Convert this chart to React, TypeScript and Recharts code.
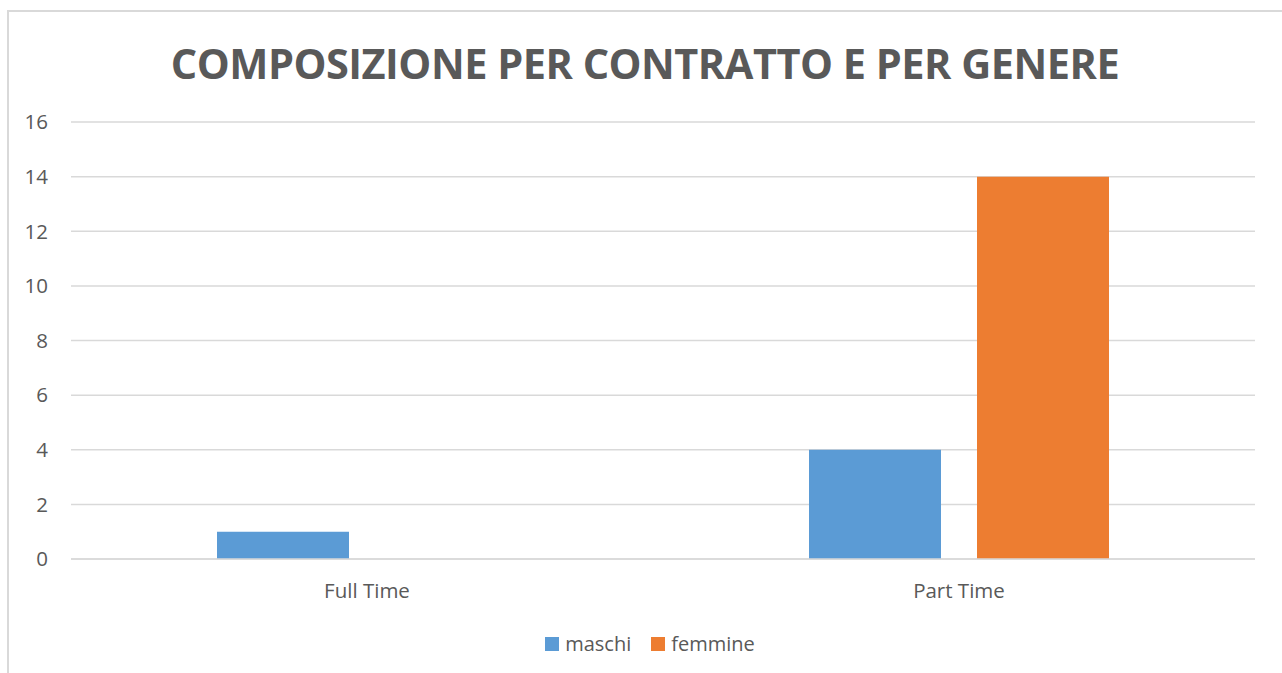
import { BarChart, Bar, XAxis, YAxis, CartesianGrid, Legend } from "recharts";

const categories = ["Full Time", "Part Time"];
const maschi = [1, 4];
const femmine = [0, 14];
const yTicks = [0, 2, 4, 6, 8, 10, 12, 14, 16];
const seriesNames = ["maschi", "femmine"];

const COLORS: Record<string, string> = { maschi: "#5b9bd5", femmine: "#ed7d31" };
const FONT = "'Open Sans', 'DejaVu Sans', sans-serif";
const TEXT = "#595959";

const data = categories.map((c, i) => ({
  name: c,
  maschi: maschi[i],
  femmine: femmine[i],
}));

function LegendContent() {
  return (
    <div
      style={{
        display: "flex",
        justifyContent: "center",
        gap: 20,
        fontSize: 20,
        color: TEXT,
        fontFamily: FONT,
      }}
    >
      {seriesNames.map((n) => (
        <span key={n} style={{ display: "flex", alignItems: "center", gap: 6 }}>
          <span
            style={{ width: 14, height: 14, background: COLORS[n], display: "inline-block" }}
          />
          {n}
        </span>
      ))}
    </div>
  );
}

export default function App() {
  return (
    <div
      style={{
        position: "absolute",
        left: 0,
        top: 0,
        width: 1282,
        height: 673,
        overflow: "hidden",
        background: "#fff",
        fontFamily: FONT,
      }}
    >
      <div
        style={{
          position: "absolute",
          left: 7,
          top: 10,
          width: 1300,
          height: 700,
          border: "2px solid #d9d9d9",
          boxSizing: "border-box",
        }}
      />
      <div
        style={{
          position: "absolute",
          left: 0,
          top: 35,
          width: 1290,
          textAlign: "center",
          fontSize: 41.5,
          fontWeight: 700,
          color: TEXT,
          lineHeight: "56px",
          letterSpacing: -0.5,
        }}
      >
        COMPOSIZIONE PER CONTRATTO E PER GENERE
      </div>
      <div style={{ position: "absolute", left: 0, top: 0 }}>
        <BarChart
          width={1282}
          height={673}
          data={data}
          margin={{ top: 122, right: 27, left: 0, bottom: 84 }}
          barSize={132}
          barGap={36}
        >
          <CartesianGrid vertical={false} stroke="#d9d9d9" strokeWidth={1.5} />
          <XAxis
            dataKey="name"
            height={30}
            tickLine={false}
            axisLine={{ stroke: "#d9d9d9", strokeWidth: 1.5 }}
            tickMargin={18}
            tick={{ fontSize: 20.5, fill: TEXT, fontFamily: FONT }}
          />
          <YAxis
            width={71}
            domain={[0, 16]}
            ticks={yTicks}
            interval={0}
            tickLine={false}
            axisLine={false}
            tickMargin={17}
            tick={{ fontSize: 20.5, fill: TEXT, fontFamily: FONT }}
          />
          <Legend
            verticalAlign="middle"
            align="center"
            layout="horizontal"
            wrapperStyle={{ top: 630, left: 0, width: 1300 }}
            content={<LegendContent />}
          />
          <Bar
            dataKey="maschi"
            name="maschi"
            fill={COLORS.maschi}
            isAnimationActive={false}
          />
          <Bar
            dataKey="femmine"
            name="femmine"
            fill={COLORS.femmine}
            isAnimationActive={false}
          />
        </BarChart>
      </div>
    </div>
  );
}
